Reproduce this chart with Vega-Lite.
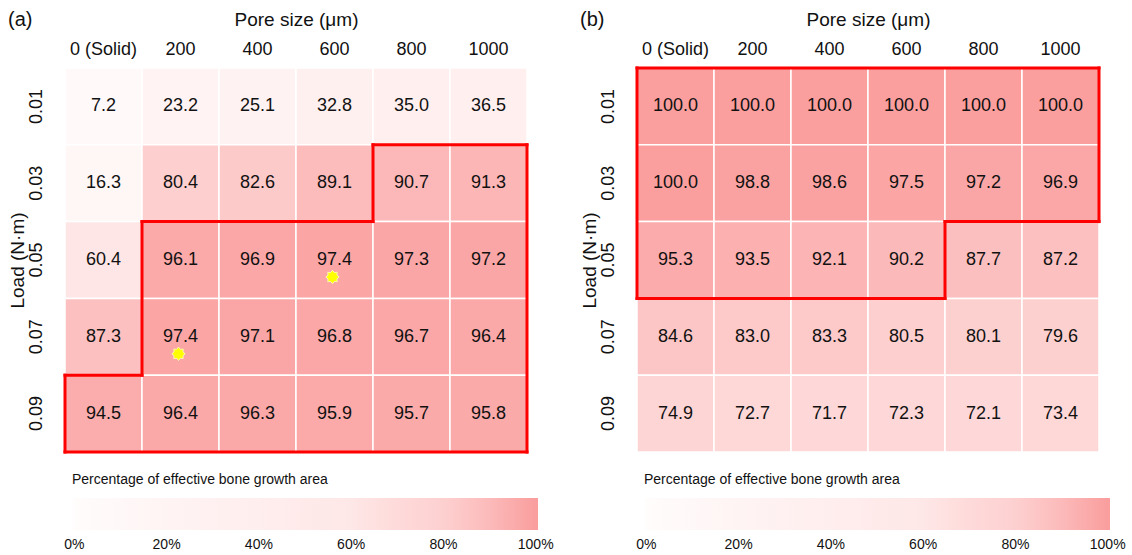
{
  "$schema": "https://vega.github.io/schema/vega-lite/v6.json",
  "padding": {"left": 7, "top": 10, "right": 4, "bottom": 0},
  "spacing": 25,
  "datasets": {
    "cellsA": [
      {"pore": "0 (Solid)", "load": "0.01", "value": 7.2},
      {"pore": "200", "load": "0.01", "value": 23.2},
      {"pore": "400", "load": "0.01", "value": 25.1},
      {"pore": "600", "load": "0.01", "value": 32.8},
      {"pore": "800", "load": "0.01", "value": 35.0},
      {"pore": "1000", "load": "0.01", "value": 36.5},
      {"pore": "0 (Solid)", "load": "0.03", "value": 16.3},
      {"pore": "200", "load": "0.03", "value": 80.4},
      {"pore": "400", "load": "0.03", "value": 82.6},
      {"pore": "600", "load": "0.03", "value": 89.1},
      {"pore": "800", "load": "0.03", "value": 90.7},
      {"pore": "1000", "load": "0.03", "value": 91.3},
      {"pore": "0 (Solid)", "load": "0.05", "value": 60.4},
      {"pore": "200", "load": "0.05", "value": 96.1},
      {"pore": "400", "load": "0.05", "value": 96.9},
      {"pore": "600", "load": "0.05", "value": 97.4},
      {"pore": "800", "load": "0.05", "value": 97.3},
      {"pore": "1000", "load": "0.05", "value": 97.2},
      {"pore": "0 (Solid)", "load": "0.07", "value": 87.3},
      {"pore": "200", "load": "0.07", "value": 97.4},
      {"pore": "400", "load": "0.07", "value": 97.1},
      {"pore": "600", "load": "0.07", "value": 96.8},
      {"pore": "800", "load": "0.07", "value": 96.7},
      {"pore": "1000", "load": "0.07", "value": 96.4},
      {"pore": "0 (Solid)", "load": "0.09", "value": 94.5},
      {"pore": "200", "load": "0.09", "value": 96.4},
      {"pore": "400", "load": "0.09", "value": 96.3},
      {"pore": "600", "load": "0.09", "value": 95.9},
      {"pore": "800", "load": "0.09", "value": 95.7},
      {"pore": "1000", "load": "0.09", "value": 95.8}
    ],
    "cellsB": [
      {"pore": "0 (Solid)", "load": "0.01", "value": 100.0},
      {"pore": "200", "load": "0.01", "value": 100.0},
      {"pore": "400", "load": "0.01", "value": 100.0},
      {"pore": "600", "load": "0.01", "value": 100.0},
      {"pore": "800", "load": "0.01", "value": 100.0},
      {"pore": "1000", "load": "0.01", "value": 100.0},
      {"pore": "0 (Solid)", "load": "0.03", "value": 100.0},
      {"pore": "200", "load": "0.03", "value": 98.8},
      {"pore": "400", "load": "0.03", "value": 98.6},
      {"pore": "600", "load": "0.03", "value": 97.5},
      {"pore": "800", "load": "0.03", "value": 97.2},
      {"pore": "1000", "load": "0.03", "value": 96.9},
      {"pore": "0 (Solid)", "load": "0.05", "value": 95.3},
      {"pore": "200", "load": "0.05", "value": 93.5},
      {"pore": "400", "load": "0.05", "value": 92.1},
      {"pore": "600", "load": "0.05", "value": 90.2},
      {"pore": "800", "load": "0.05", "value": 87.7},
      {"pore": "1000", "load": "0.05", "value": 87.2},
      {"pore": "0 (Solid)", "load": "0.07", "value": 84.6},
      {"pore": "200", "load": "0.07", "value": 83.0},
      {"pore": "400", "load": "0.07", "value": 83.3},
      {"pore": "600", "load": "0.07", "value": 80.5},
      {"pore": "800", "load": "0.07", "value": 80.1},
      {"pore": "1000", "load": "0.07", "value": 79.6},
      {"pore": "0 (Solid)", "load": "0.09", "value": 74.9},
      {"pore": "200", "load": "0.09", "value": 72.7},
      {"pore": "400", "load": "0.09", "value": 71.7},
      {"pore": "600", "load": "0.09", "value": 72.3},
      {"pore": "800", "load": "0.09", "value": 72.1},
      {"pore": "1000", "load": "0.09", "value": 73.4}
    ],
    "borderA": [
      {"side": "top", "load": "0.03", "from": "800", "to": "1000"},
      {"side": "top", "load": "0.05", "from": "200", "to": "600"},
      {"side": "top", "load": "0.09", "from": "0 (Solid)", "to": "0 (Solid)"},
      {"side": "bottom", "load": "0.09", "from": "0 (Solid)", "to": "1000"},
      {"side": "left", "pore": "800", "from": "0.03", "to": "0.03"},
      {"side": "left", "pore": "200", "from": "0.05", "to": "0.07"},
      {"side": "left", "pore": "0 (Solid)", "from": "0.09", "to": "0.09"},
      {"side": "right", "pore": "1000", "from": "0.03", "to": "0.09"}
    ],
    "borderB": [
      {"side": "top", "load": "0.01", "from": "0 (Solid)", "to": "1000"},
      {"side": "bottom", "load": "0.03", "from": "800", "to": "1000"},
      {"side": "bottom", "load": "0.05", "from": "0 (Solid)", "to": "600"},
      {"side": "left", "pore": "0 (Solid)", "from": "0.01", "to": "0.05"},
      {"side": "right", "pore": "1000", "from": "0.01", "to": "0.03"},
      {"side": "right", "pore": "600", "from": "0.05", "to": "0.05"}
    ],
    "starsA": [
      {"pore": "600", "load": "0.05"},
      {"pore": "200", "load": "0.07"}
    ]
  },
  "hconcat": [
    {
      "width": 462,
      "height": 384,
      "title": {"text": "(a)", "anchor": "start", "frame": "bounds", "fontSize": 20, "fontWeight": "normal", "offset": -20, "color": "#111"},
      "layer": [
        {
          "data": {"name": "cellsA"},
          "mark": {"type": "rect", "stroke": "#ffffff", "strokeWidth": 1.5},
          "encoding": {
            "x": {"field": "pore", "type": "nominal", "scale": {"type": "band", "domain": ["0 (Solid)", "200", "400", "600", "800", "1000"], "paddingInner": 0, "paddingOuter": 0},
              "axis": {"orient": "top", "title": "Pore size (μm)", "labelAngle": 0, "labelPadding": 10, "titlePadding": 11}},
            "y": {"field": "load", "type": "nominal", "scale": {"type": "band", "domain": ["0.01", "0.03", "0.05", "0.07", "0.09"], "paddingInner": 0, "paddingOuter": 0},
              "axis": {"title": "Load (N·m)", "labelAngle": -90, "labelPadding": 20, "titlePadding": 0}},
            "color": {"field": "value", "type": "quantitative",
              "scale": {"domain": [-0.5, 0, 20, 40, 60, 70, 80, 90, 100, 100.5], "range": ["#ffffff", "#ffffff", "#fff4f4", "#ffeeee", "#fee7e7", "#fedada", "#fdd0d0", "#fcbaba", "#fa9e9e", "#fa9e9e"]},
              "legend": {"title": "Percentage of effective bone growth area", "orient": "none", "legendX": 7, "legendY": 405, "direction": "horizontal",
                "gradientLength": 466, "gradientThickness": 32, "values": [0, 20, 40, 60, 80, 100], "labelExpr": "datum.value + '%'",
                "titleFontSize": 14, "titleFontWeight": "normal", "titleColor": "#111", "titleLimit": 600, "labelFontSize": 14, "labelColor": "#111",
                "labelAlign": "center", "titlePadding": 11, "labelOffset": 8, "gradientStrokeWidth": 0}}
          }
        },
        {
          "data": {"name": "cellsA"},
          "mark": {"type": "text", "fontSize": 18, "color": "#111"},
          "encoding": {
            "x": {"field": "pore", "type": "nominal", "scale": {"type": "band"}},
            "y": {"field": "load", "type": "nominal", "scale": {"type": "band"}},
            "text": {"field": "value", "type": "quantitative", "format": ".1f"}
          }
        },
        {
          "data": {"name": "starsA"},
          "mark": {"type": "point", "shape": "M1,0L0.665,0.276L0.707,0.707L0.276,0.665L0,1L-0.276,0.665L-0.707,0.707L-0.665,0.276L-1,0L-0.665,-0.276L-0.707,-0.707L-0.276,-0.665L0,-1L0.276,-0.665L0.707,-0.707L0.665,-0.276Z", "filled": true, "fill": "#ffff00", "stroke": "#fff6b0", "strokeWidth": 1, "size": 180, "opacity": 1, "yOffset": 17, "xOffset": -2},
          "encoding": {
            "x": {"field": "pore", "type": "nominal", "scale": {"type": "band"}},
            "y": {"field": "load", "type": "nominal", "scale": {"type": "band"}}
          }
        },
        {
          "data": {"name": "borderA"},
          "transform": [{"filter": "datum.side === 'top'"}],
          "mark": {"type": "rule", "color": "#ff0000", "strokeWidth": 3, "strokeCap": "square"},
          "encoding": {
            "x": {"field": "from", "type": "nominal", "bandPosition": 0, "scale": {"type": "band"}},
            "x2": {"field": "to", "bandPosition": 1},
            "y": {"field": "load", "type": "nominal", "bandPosition": 0, "scale": {"type": "band"}}
          }
        },
        {
          "data": {"name": "borderA"},
          "transform": [{"filter": "datum.side === 'bottom'"}],
          "mark": {"type": "rule", "color": "#ff0000", "strokeWidth": 3, "strokeCap": "square"},
          "encoding": {
            "x": {"field": "from", "type": "nominal", "bandPosition": 0, "scale": {"type": "band"}},
            "x2": {"field": "to", "bandPosition": 1},
            "y": {"field": "load", "type": "nominal", "bandPosition": 1, "scale": {"type": "band"}}
          }
        },
        {
          "data": {"name": "borderA"},
          "transform": [{"filter": "datum.side === 'left'"}],
          "mark": {"type": "rule", "color": "#ff0000", "strokeWidth": 3, "strokeCap": "square"},
          "encoding": {
            "x": {"field": "pore", "type": "nominal", "bandPosition": 0, "scale": {"type": "band"}},
            "y": {"field": "from", "type": "nominal", "bandPosition": 0, "scale": {"type": "band"}},
            "y2": {"field": "to", "bandPosition": 1}
          }
        },
        {
          "data": {"name": "borderA"},
          "transform": [{"filter": "datum.side === 'right'"}],
          "mark": {"type": "rule", "color": "#ff0000", "strokeWidth": 3, "strokeCap": "square"},
          "encoding": {
            "x": {"field": "pore", "type": "nominal", "bandPosition": 1, "scale": {"type": "band"}},
            "y": {"field": "from", "type": "nominal", "bandPosition": 0, "scale": {"type": "band"}},
            "y2": {"field": "to", "bandPosition": 1}
          }
        }
      ]
    },
    {
      "width": 462,
      "height": 384,
      "title": {"text": "(b)", "anchor": "start", "frame": "bounds", "fontSize": 20, "fontWeight": "normal", "offset": -20, "color": "#111"},
      "layer": [
        {
          "data": {"name": "cellsB"},
          "mark": {"type": "rect", "stroke": "#ffffff", "strokeWidth": 1.5},
          "encoding": {
            "x": {"field": "pore", "type": "nominal", "scale": {"type": "band", "domain": ["0 (Solid)", "200", "400", "600", "800", "1000"], "paddingInner": 0, "paddingOuter": 0},
              "axis": {"orient": "top", "title": "Pore size (μm)", "labelAngle": 0, "labelPadding": 10, "titlePadding": 11}},
            "y": {"field": "load", "type": "nominal", "scale": {"type": "band", "domain": ["0.01", "0.03", "0.05", "0.07", "0.09"], "paddingInner": 0, "paddingOuter": 0},
              "axis": {"title": "Load (N·m)", "labelAngle": -90, "labelPadding": 20, "titlePadding": 0}},
            "color": {"field": "value", "type": "quantitative",
              "scale": {"domain": [-0.5, 0, 20, 40, 60, 70, 80, 90, 100, 100.5], "range": ["#ffffff", "#ffffff", "#fff4f4", "#ffeeee", "#fee7e7", "#fedada", "#fdd0d0", "#fcbaba", "#fa9e9e", "#fa9e9e"]},
              "legend": {"title": "Percentage of effective bone growth area", "orient": "none", "legendX": 7, "legendY": 405, "direction": "horizontal",
                "gradientLength": 466, "gradientThickness": 32, "values": [0, 20, 40, 60, 80, 100], "labelExpr": "datum.value + '%'",
                "titleFontSize": 14, "titleFontWeight": "normal", "titleColor": "#111", "titleLimit": 600, "labelFontSize": 14, "labelColor": "#111",
                "labelAlign": "center", "titlePadding": 11, "labelOffset": 8, "gradientStrokeWidth": 0}}
          }
        },
        {
          "data": {"name": "cellsB"},
          "mark": {"type": "text", "fontSize": 18, "color": "#111"},
          "encoding": {
            "x": {"field": "pore", "type": "nominal", "scale": {"type": "band"}},
            "y": {"field": "load", "type": "nominal", "scale": {"type": "band"}},
            "text": {"field": "value", "type": "quantitative", "format": ".1f"}
          }
        },
        {
          "data": {"name": "borderB"},
          "transform": [{"filter": "datum.side === 'top'"}],
          "mark": {"type": "rule", "color": "#ff0000", "strokeWidth": 3, "strokeCap": "square"},
          "encoding": {
            "x": {"field": "from", "type": "nominal", "bandPosition": 0, "scale": {"type": "band"}},
            "x2": {"field": "to", "bandPosition": 1},
            "y": {"field": "load", "type": "nominal", "bandPosition": 0, "scale": {"type": "band"}}
          }
        },
        {
          "data": {"name": "borderB"},
          "transform": [{"filter": "datum.side === 'bottom'"}],
          "mark": {"type": "rule", "color": "#ff0000", "strokeWidth": 3, "strokeCap": "square"},
          "encoding": {
            "x": {"field": "from", "type": "nominal", "bandPosition": 0, "scale": {"type": "band"}},
            "x2": {"field": "to", "bandPosition": 1},
            "y": {"field": "load", "type": "nominal", "bandPosition": 1, "scale": {"type": "band"}}
          }
        },
        {
          "data": {"name": "borderB"},
          "transform": [{"filter": "datum.side === 'left'"}],
          "mark": {"type": "rule", "color": "#ff0000", "strokeWidth": 3, "strokeCap": "square"},
          "encoding": {
            "x": {"field": "pore", "type": "nominal", "bandPosition": 0, "scale": {"type": "band"}},
            "y": {"field": "from", "type": "nominal", "bandPosition": 0, "scale": {"type": "band"}},
            "y2": {"field": "to", "bandPosition": 1}
          }
        },
        {
          "data": {"name": "borderB"},
          "transform": [{"filter": "datum.side === 'right'"}],
          "mark": {"type": "rule", "color": "#ff0000", "strokeWidth": 3, "strokeCap": "square"},
          "encoding": {
            "x": {"field": "pore", "type": "nominal", "bandPosition": 1, "scale": {"type": "band"}},
            "y": {"field": "from", "type": "nominal", "bandPosition": 0, "scale": {"type": "band"}},
            "y2": {"field": "to", "bandPosition": 1}
          }
        }
      ]
    }
  ],
  "resolve": {"scale": {"color": "independent"}, "legend": {"color": "independent"}},
  "config": {
    "font": "Liberation Sans",
    "view": {"stroke": null},
    "axis": {"domain": false, "ticks": false, "grid": false, "labelColor": "#111", "titleColor": "#111", "titleFontWeight": "normal", "labelFontSize": 18, "titleFontSize": 19},
    "axisY": {"titleFontSize": 19, "labelFontSize": 18}
  }
}
